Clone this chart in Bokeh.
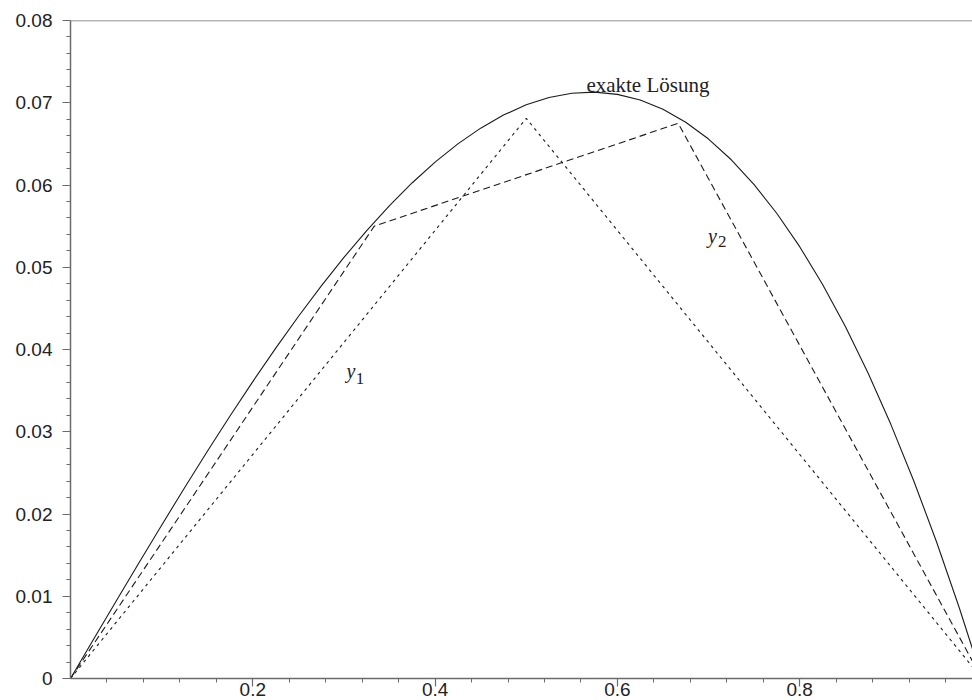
from bokeh.plotting import figure
from bokeh.models import Range1d, FixedTicker, Span
from bokeh.core.properties import value
from bokeh.embed import file_html
from bokeh.resources import INLINE

# exact solution
x_exact = [0.0, 0.025, 0.05, 0.075, 0.1, 0.125, 0.15, 0.175, 0.2, 0.225, 0.25,
           0.275, 0.3, 0.325, 0.35, 0.375, 0.4, 0.425, 0.45, 0.475, 0.5,
           0.525, 0.55, 0.575, 0.6, 0.625, 0.65, 0.675, 0.7, 0.725, 0.75,
           0.775, 0.8, 0.825, 0.85, 0.875, 0.9, 0.925, 0.95, 0.975, 1.0]
y_exact = [0.0, 0.004707, 0.009395, 0.014046, 0.018641, 0.023163, 0.027591,
           0.031909, 0.036098, 0.040139, 0.044014, 0.047705, 0.051194,
           0.054465, 0.057497, 0.060277, 0.062782, 0.065000, 0.066911,
           0.068499, 0.069747, 0.070639, 0.071158, 0.071291, 0.071018,
           0.070327, 0.069200, 0.067625, 0.065585, 0.063067, 0.060056,
           0.056539, 0.052502, 0.047933, 0.042817, 0.037145, 0.030901,
           0.024077, 0.016659, 0.008637, 0.0]

# approximation y1 (one interior node)
x_y1 = [0.0, 0.5, 1.0]
y_y1 = [0.0, 0.0681, 0.0]

# approximation y2 (two interior nodes)
x_y2 = [0.0, 0.3333, 0.6667, 1.0]
y_y2 = [0.0, 0.0550, 0.0675, 0.0]

# tick values
x_ticks = [0.2, 0.4, 0.6, 0.8]
x_minor = [0.04, 0.08, 0.12, 0.16, 0.24, 0.28, 0.32, 0.36, 0.44, 0.48,
           0.52, 0.56, 0.64, 0.68, 0.72, 0.76, 0.84, 0.88, 0.92, 0.96]
y_ticks = [0.0, 0.01, 0.02, 0.03, 0.04, 0.05, 0.06, 0.07, 0.08]
y_minor = [round(0.002 * i, 3) for i in range(41) if i % 5]

# annotation texts and anchor positions (data units)
lab_exact = "exakte Lösung"
lab_exact_x, lab_exact_y = 0.566, 0.0722
lab_y1_x, lab_y1_y, lab_y1_sx, lab_y1_sy = 0.3028, 0.0374, 0.3130, 0.03648
lab_y2_x, lab_y2_y, lab_y2_sx, lab_y2_sy = 0.6994, 0.05385, 0.7103, 0.05311

AX = "#6b6b6b"
TXT = "#222222"
LINE = "#1a1a1a"

p = figure(width=972, height=698, output_backend="svg", toolbar_location=None,
           title=None, x_range=Range1d(0, 0.9896), y_range=Range1d(0, 0.08),
           min_border_left=70, min_border_top=20, min_border_right=0,
           min_border_bottom=0)
p.grid.visible = False
p.outline_line_color = None
p.background_fill_color = "white"
p.border_fill_color = "white"

p.line(x_exact, y_exact, line_color=LINE, line_width=1.1)
p.line(x_y2, y_y2, line_color=LINE, line_width=1.1, line_dash="7 4")
p.line(x_y1, y_y1, line_color=LINE, line_width=1.1, line_dash="3 4")

p.add_layout(Span(location=0.08, dimension="width", line_color=AX, line_width=1.5))

serif = value("Liberation Serif")
p.text(x=[lab_exact_x], y=[lab_exact_y], text=[lab_exact], text_font=serif,
       text_font_size="21px", text_baseline="alphabetic", text_align="left",
       text_color=TXT)
p.text(x=[lab_y1_x, lab_y2_x], y=[lab_y1_y, lab_y2_y], text=["y", "y"],
       text_font=serif, text_font_style="italic", text_font_size="20px",
       text_baseline="alphabetic", text_align="left", text_color=TXT)
p.text(x=[lab_y1_sx, lab_y2_sx], y=[lab_y1_sy, lab_y2_sy], text=["1", "2"],
       text_font=serif, text_font_size="17px",
       text_baseline="alphabetic", text_align="left", text_color=TXT)

for ax in (p.xaxis[0], p.yaxis[0]):
    ax.axis_line_color = AX
    ax.axis_line_width = 1.5
    ax.major_tick_line_color = AX
    ax.minor_tick_line_color = AX
    ax.major_tick_line_width = 1.2
    ax.minor_tick_line_width = 1
    ax.major_tick_in = 0
    ax.major_tick_out = 8
    ax.minor_tick_in = 0
    ax.minor_tick_out = 4
    ax.major_label_text_font = "Liberation Sans"
    ax.major_label_text_font_size = "19px"
    ax.major_label_text_color = TXT

xa = p.xaxis[0]
xa.ticker = FixedTicker(ticks=x_ticks, minor_ticks=x_minor)
xa.major_label_standoff = -4

ya = p.yaxis[0]
ya.ticker = FixedTicker(ticks=y_ticks, minor_ticks=y_minor)
ya.major_label_standoff = 10
ya.major_label_overrides = {0: "0"}

open("out.html", "w").write(file_html(p, INLINE))
